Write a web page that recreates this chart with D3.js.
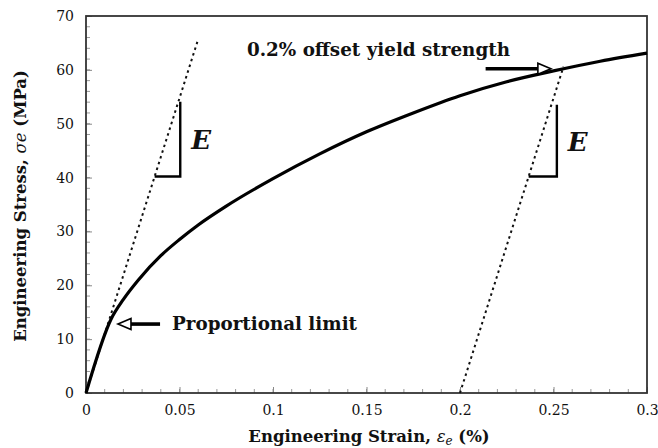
<!DOCTYPE html>
<html>
<head>
<meta charset="utf-8">
<script src="https://cdn.jsdelivr.net/npm/d3@7"></script>
<style>
  html, body { margin: 0; padding: 0; background: #fff; }
  svg { display: block; }
  text { font-family: "DejaVu Serif", "Liberation Serif", serif; fill: #111; }
</style>
</head>
<body>
<svg id="chart" width="658" height="448"></svg>
<script>
// ---- data ----
const strain = [0, 0.0135, 0.02, 0.028, 0.04, 0.05, 0.06, 0.075, 0.1, 0.125, 0.15, 0.175, 0.2, 0.225, 0.25, 0.275, 0.3];
const stress = [0, 13.8, 17.4, 21.0, 25.5, 28.5, 31.2, 34.7, 39.8, 44.4, 48.5, 52.0, 55.2, 57.8, 59.8, 61.6, 63.1];
const xTickValues = [0, 0.05, 0.1, 0.15, 0.2, 0.25, 0.3];
const xTickLabels = ["0", "0.05", "0.1", "0.15", "0.2", "0.25", "0.3"];
const yTickValues = [0, 10, 20, 30, 40, 50, 60, 70];
const yTickLabels = ["0", "10", "20", "30", "40", "50", "60", "70"];
const modulus = 1095;          // MPa per % strain (slope of elastic line)
const offsetStrain = 0.2;      // 0.2 % offset
const elasticTop = 65.2;       // stress where first dashed line ends
const offsetTop = 60.6;        // stress where offset dashed line ends
const slope1 = {x0: 0.0367, x1: 0.0504, y0: 40.2, y1: 54.1};
const slope2 = {x0: 0.2367, x1: 0.2518, y0: 40.2, y1: 53.5};
const propArrow = {tipX: 0.0171, tailX: 0.0396, y: 12.8};
const yieldArrow = {tailX: 0.2137, tipX: 0.2486, y: 60.2};

// ---- layout ----
const W = 658, H = 448;
const m = {left: 86, right: 11, top: 16, bottom: 55};
const svg = d3.select("#chart");
const x = d3.scaleLinear().domain([0, 0.3]).range([m.left, W - m.right]);
const y = d3.scaleLinear().domain([0, 70]).range([H - m.bottom, m.top]);

// minor ticks (inward)
const g = svg.append("g");
const xMinor = d3.range(0, 0.3001, 0.01);
const yMinor = d3.range(0, 70.001, 2);
g.selectAll(".xminor").data(xMinor).join("line")
  .attr("x1", d => x(d)).attr("x2", d => x(d))
  .attr("y1", y(0)).attr("y2", y(0) - 4)
  .attr("stroke", "#999").attr("stroke-width", 1);
g.selectAll(".yminor").data(yMinor).join("line")
  .attr("x1", x(0)).attr("x2", x(0) + 4)
  .attr("y1", d => y(d)).attr("y2", d => y(d))
  .attr("stroke", "#999").attr("stroke-width", 1);

// axes via d3
const xAxis = d3.axisBottom(x).tickValues(xTickValues)
  .tickFormat((d, i) => xTickLabels[i]).tickSizeInner(-6).tickSizeOuter(0).tickPadding(12);
const yAxis = d3.axisLeft(y).tickValues(yTickValues)
  .tickFormat((d, i) => yTickLabels[i]).tickSizeInner(-6).tickSizeOuter(0).tickPadding(12);
const gx = svg.append("g").attr("transform", `translate(0,${y(0)})`).call(xAxis);
const gy = svg.append("g").attr("transform", `translate(${x(0)},0)`).call(yAxis);
[gx, gy].forEach(a => {
  a.select(".domain").remove();
  a.selectAll(".tick line").attr("stroke", "#888").attr("stroke-width", 1);
  a.selectAll(".tick text").attr("font-family", "DejaVu Serif").attr("font-size", 14).attr("fill", "#111");
});

// frame
svg.append("rect")
  .attr("x", x(0)).attr("y", y(70))
  .attr("width", x(0.3) - x(0)).attr("height", y(0) - y(70))
  .attr("fill", "none").attr("stroke", "#333").attr("stroke-width", 1.8);

// dashed elastic lines
svg.append("line")
  .attr("x1", x(0)).attr("y1", y(0))
  .attr("x2", x(elasticTop / modulus)).attr("y2", y(elasticTop))
  .attr("stroke", "#111").attr("stroke-width", 2).attr("stroke-dasharray", "2.5,3.5");
svg.append("line")
  .attr("x1", x(offsetStrain)).attr("y1", y(0))
  .attr("x2", x(offsetStrain + offsetTop / modulus)).attr("y2", y(offsetTop))
  .attr("stroke", "#111").attr("stroke-width", 2).attr("stroke-dasharray", "2.5,3.5");

// stress-strain curve
const pts = strain.map((s, i) => [s, stress[i]]);
svg.append("path")
  .datum(pts)
  .attr("d", d3.line().x(d => x(d[0])).y(d => y(d[1])).curve(d3.curveMonotoneX))
  .attr("fill", "none").attr("stroke", "#000").attr("stroke-width", 3.2)
  .attr("stroke-linejoin", "round");

// slope triangles
[slope1, slope2].forEach(s => {
  svg.append("path")
    .attr("d", `M${x(s.x0)},${y(s.y0)}L${x(s.x1)},${y(s.y0)}L${x(s.x1)},${y(s.y1)}`)
    .attr("fill", "none").attr("stroke", "#000").attr("stroke-width", 2.4);
  svg.append("text")
    .attr("x", x(s.x1) + 11).attr("y", y((s.y0 + s.y1) / 2) + 10)
    .attr("font-size", 26).attr("font-weight", "bold").attr("font-style", "italic")
    .text("E");
});

// hollow arrows
function hollowArrow(x1, x2, yy) {
  const dir = Math.sign(x2 - x1);
  const headL = 13, headW = 5.5;
  const base = x2 - dir * headL;
  svg.append("line")
    .attr("x1", x1).attr("y1", yy).attr("x2", base).attr("y2", yy)
    .attr("stroke", "#000").attr("stroke-width", 3.6);
  svg.append("path")
    .attr("d", `M${x2},${yy}L${base},${yy - headW}L${base},${yy + headW}Z`)
    .attr("fill", "#fff").attr("stroke", "#000").attr("stroke-width", 1.6)
    .attr("stroke-linejoin", "miter");
}
hollowArrow(x(propArrow.tailX), x(propArrow.tipX), y(propArrow.y));
hollowArrow(x(yieldArrow.tailX), x(yieldArrow.tipX), y(yieldArrow.y));

// annotation labels
svg.append("text")
  .attr("x", x(propArrow.tailX) + 12).attr("y", y(propArrow.y) + 6)
  .attr("font-size", 18).attr("font-weight", "bold")
  .attr("textLength", 185).attr("lengthAdjust", "spacingAndGlyphs")
  .text("Proportional limit");
svg.append("text")
  .attr("x", x(0.0861)).attr("y", y(62.6))
  .attr("font-size", 18).attr("font-weight", "bold")
  .attr("textLength", 263).attr("lengthAdjust", "spacingAndGlyphs")
  .text("0.2% offset yield strength");

// axis titles
const xt = svg.append("text")
  .attr("x", 369).attr("y", 442)
  .attr("text-anchor", "middle").attr("font-size", 16.5).attr("font-weight", "bold");
xt.append("tspan").text("Engineering Strain, ");
xt.append("tspan").attr("font-style", "italic").attr("font-weight", "normal").text("ε");
xt.append("tspan").attr("font-style", "italic").attr("font-weight", "normal").attr("font-size", 12).attr("dy", 3).text("e");
xt.append("tspan").attr("dy", -3).text(" (%)");

const yt = svg.append("text")
  .attr("transform", `translate(26,${206}) rotate(-90)`)
  .attr("text-anchor", "middle").attr("font-size", 16.5).attr("font-weight", "bold");
yt.append("tspan").text("Engineering Stress, ");
yt.append("tspan").attr("font-style", "italic").attr("font-weight", "normal").text("σe");
yt.append("tspan").text("  (MPa)");
</script>
</body>
</html>
